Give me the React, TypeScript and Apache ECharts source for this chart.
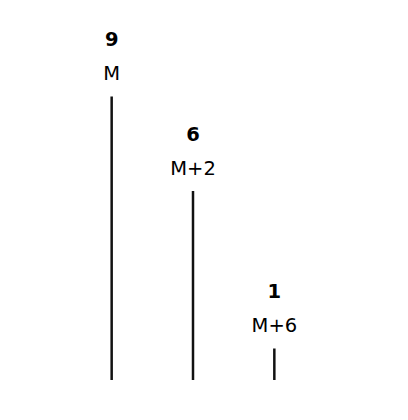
import { useEffect, useRef } from 'react'
import * as echarts from 'echarts'

const categories = ['M', 'M+2', 'M+6']
const counts = [9, 6, 1]

export default function App() {
  const ref = useRef<HTMLDivElement | null>(null)

  useEffect(() => {
    if (!ref.current) return
    const chart = echarts.init(ref.current, undefined, { renderer: 'svg' })
    chart.setOption({
      animation: false,
      backgroundColor: '#ffffff',
      textStyle: { fontFamily: 'DejaVu Sans' },
      grid: { left: 71, right: 93, top: 65, bottom: 40 },
      xAxis: {
        type: 'category',
        data: categories,
        show: false
      },
      yAxis: {
        type: 'value',
        min: 0,
        max: 10,
        show: false
      },
      series: [
        {
          type: 'bar',
          barWidth: 2.5,
          data: counts,
          itemStyle: { color: '#111111' },
          label: {
            show: true,
            position: 'top',
            distance: 6,
            formatter: (p: any) => `{v|${p.value}}\n{c|${p.name}}`,
            rich: {
              v: {
                fontFamily: 'DejaVu Sans',
                fontSize: 19.5,
                fontWeight: 'bold',
                color: '#000000',
                lineHeight: 34
              },
              c: {
                fontFamily: 'DejaVu Sans',
                fontSize: 19.5,
                color: '#000000',
                lineHeight: 34
              }
            }
          }
        }
      ]
    })
    return () => {
      chart.dispose()
    }
  }, [])

  return (
    <div
      ref={ref}
      style={{ position: 'fixed', left: 0, top: 0, width: 408, height: 420 }}
    />
  )
}
